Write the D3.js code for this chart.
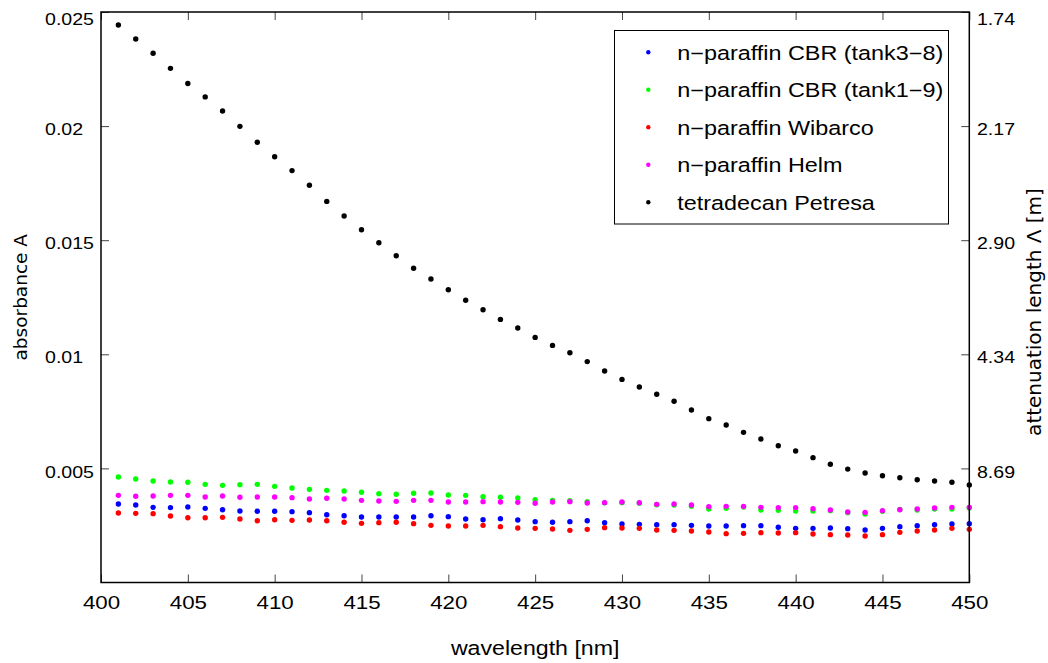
<!DOCTYPE html>
<html>
<head>
<meta charset="utf-8">
<script src="https://cdn.jsdelivr.net/npm/d3@7"></script>
<style>
  html, body { margin: 0; padding: 0; background: #fff; }
  svg { display: block; }
  text { font-family: "Liberation Sans", Arial, sans-serif; fill: #000; }
</style>
</head>
<body>
<svg id="chart" width="1048" height="663"></svg>
<script>
// Absorbance spectra of scintillator solvents, 401–450 nm
const wavelengths = [
  401,402,403,404,405,406,407,408,409,410,
  411,412,413,414,415,416,417,418,419,420,
  421,422,423,424,425,426,427,428,429,430,
  431,432,433,434,435,436,437,438,439,440,
  441,442,443,444,445,446,447,448,449,450
];

const cbrTank38 = [
  0.003440,0.003396,0.003294,0.003279,0.003308,0.003250,0.003191,0.003133,0.003119,0.003119,
  0.003104,0.003060,0.002972,0.002928,0.002870,0.002870,0.002870,0.002870,0.002928,0.002885,
  0.002783,0.002753,0.002797,0.002739,0.002666,0.002637,0.002666,0.002709,0.002622,0.002564,
  0.002549,0.002534,0.002534,0.002505,0.002476,0.002476,0.002491,0.002491,0.002418,0.002374,
  0.002374,0.002388,0.002359,0.002301,0.002374,0.002447,0.002491,0.002534,0.002564,0.002578
];

const cbrTank19 = [
  0.004623,0.004535,0.004448,0.004404,0.004390,0.004302,0.004258,0.004287,0.004302,0.004214,
  0.004141,0.004083,0.004039,0.004010,0.003952,0.003893,0.003864,0.003908,0.003922,0.003834,
  0.003820,0.003761,0.003733,0.003703,0.003630,0.003601,0.003586,0.003542,0.003490,0.003500,
  0.003470,0.003410,0.003396,0.003338,0.003221,0.003250,0.003308,0.003177,0.003162,0.003133,
  0.003133,0.003148,0.003060,0.003002,0.003119,0.003206,0.003177,0.003221,0.003221,0.003265
];

const wibarco = [
  0.003046,0.003031,0.003016,0.002914,0.002840,0.002840,0.002855,0.002783,0.002709,0.002753,
  0.002724,0.002739,0.002709,0.002637,0.002593,0.002622,0.002637,0.002578,0.002505,0.002476,
  0.002476,0.002505,0.002447,0.002388,0.002374,0.002344,0.002286,0.002330,0.002403,0.002388,
  0.002374,0.002301,0.002286,0.002257,0.002213,0.002140,0.002154,0.002184,0.002169,0.002184,
  0.002125,0.002096,0.002082,0.002038,0.002096,0.002198,0.002257,0.002301,0.002374,0.002330
];

const helm = [
  0.003820,0.003777,0.003791,0.003820,0.003820,0.003747,0.003791,0.003733,0.003747,0.003747,
  0.003718,0.003659,0.003689,0.003659,0.003601,0.003571,0.003557,0.003601,0.003601,0.003528,
  0.003528,0.003542,0.003528,0.003513,0.003470,0.003528,0.003542,0.003484,0.003499,0.003528,
  0.003499,0.003425,0.003440,0.003396,0.003323,0.003338,0.003338,0.003294,0.003279,0.003279,
  0.003235,0.003177,0.003089,0.003075,0.003148,0.003191,0.003221,0.003265,0.003294,0.003294
];

const petresa = [
  0.02443,0.02382,0.02319,0.02253,0.02187,0.02128,0.02066,0.01999,0.01929,0.01866,
  0.01805,0.01741,0.01670,0.01606,0.01546,0.01489,0.01432,0.01377,0.01330,0.01283,
  0.01237,0.01195,0.01153,0.01115,0.01074,0.01039,0.01007,0.00968,0.00927,0.00890,
  0.00857,0.00825,0.00794,0.00756,0.00718,0.00690,0.00658,0.00629,0.00599,0.00576,
  0.00547,0.00518,0.00497,0.00480,0.00468,0.00459,0.00450,0.00445,0.00439,0.00427
];

const seriesNames = [
  "n\u2212paraffin CBR (tank3\u22128)",
  "n\u2212paraffin CBR (tank1\u22129)",
  "n\u2212paraffin Wibarco",
  "n\u2212paraffin Helm",
  "tetradecan Petresa"
];
const seriesValues = [cbrTank38, cbrTank19, wibarco, helm, petresa];
const seriesColors = ["#0000ff", "#00ff00", "#ff0000", "#ff00ff", "#000000"];

const xTicks = [400, 405, 410, 415, 420, 425, 430, 435, 440, 445, 450];
const yTicks = [0.005, 0.01, 0.015, 0.02, 0.025];
const yTickLabels = ["0.005", "0.01", "0.015", "0.02", "0.025"];
const lambdaTickLabels = ["8.69", "4.34", "2.90", "2.17", "1.74"];

const svg = d3.select("#chart");
const plot = { left: 101, right: 969.3, top: 12, bottom: 582.5 };
const sx = 1.2;   // horizontal widening of the lettering

const x = d3.scaleLinear().domain([400, 450]).range([plot.left, plot.right]);
const y = d3.scaleLinear().domain([0, 0.025]).range([plot.bottom, plot.top]);

const tickStroke = "#444";

function styleAxis(g, size) {
  g.select(".domain").remove();
  g.selectAll(".tick line").attr("stroke", tickStroke).attr("stroke-width", 1);
  g.selectAll("text")
    .style("font-size", size)
    .style("font-family", '"Liberation Sans", Arial, sans-serif')
    .attr("fill", "#000")
    .attr("transform", `scale(${sx},1)`);
}

// bottom axis with labels
svg.append("g")
  .attr("transform", `translate(0,${plot.bottom})`)
  .call(d3.axisBottom(x).tickValues(xTicks).tickFormat(d3.format("d"))
    .tickSizeInner(-8).tickSizeOuter(0).tickPadding(13.5))
  .call(styleAxis, "18.6px");

// top axis, ticks only
svg.append("g")
  .attr("transform", `translate(0,${plot.top})`)
  .call(d3.axisTop(x).tickValues(xTicks).tickFormat(() => "")
    .tickSizeInner(-8).tickSizeOuter(0))
  .call(styleAxis, "18.6px");

// left axis: absorbance
svg.append("g")
  .attr("transform", `translate(${plot.left},0)`)
  .call(d3.axisLeft(y).tickValues(yTicks).tickFormat((d, i) => yTickLabels[i])
    .tickSizeInner(-8).tickSizeOuter(0))
  .call(styleAxis, "16.3px")
  .call(g => g.selectAll("text")
    .attr("text-anchor", "start")
    .attr("x", (45 - plot.left) / sx)
    .attr("dy", d => d === 0.025 ? "0.77em" : "0.53em"));

// right axis: attenuation length at the same tick positions
svg.append("g")
  .attr("transform", `translate(${plot.right},0)`)
  .call(d3.axisRight(y).tickValues(yTicks).tickFormat((d, i) => lambdaTickLabels[i])
    .tickSizeInner(-8).tickSizeOuter(0))
  .call(styleAxis, "16.3px")
  .call(g => g.selectAll("text")
    .attr("text-anchor", "start")
    .attr("x", (977 - plot.right) / sx)
    .attr("dy", d => d === 0.025 ? "0.74em" : "0.53em"));

// data points
seriesValues.forEach((vals, si) => {
  svg.append("g")
    .selectAll("circle")
    .data(vals)
    .join("circle")
    .attr("cx", (d, i) => x(wavelengths[i]))
    .attr("cy", d => y(d))
    .attr("r", 2.7)
    .attr("fill", seriesColors[si]);
});

// frame
svg.append("rect")
  .attr("x", plot.left).attr("y", plot.top)
  .attr("width", plot.right - plot.left).attr("height", plot.bottom - plot.top)
  .attr("fill", "none").attr("stroke", "#000").attr("stroke-width", 1.5);

// axis titles
svg.append("text")
  .attr("transform", `translate(${(plot.left + plot.right) / 2},655) scale(${sx},1)`)
  .attr("text-anchor", "middle")
  .style("font-size", "19.3px")
  .text("wavelength [nm]");

svg.append("text")
  .attr("transform", `translate(26.5,${(plot.top + plot.bottom) / 2}) rotate(-90)`)
  .attr("text-anchor", "middle")
  .style("font-family", '"DejaVu Sans", sans-serif')
  .style("font-size", "18.5px")
  .text("absorbance A");

svg.append("text")
  .attr("transform", `translate(1041,312) rotate(-90)`)
  .attr("text-anchor", "middle")
  .style("font-family", '"DejaVu Sans", sans-serif')
  .style("font-size", "20px")
  .text("attenuation length \u039B [m]");

// legend
const legend = svg.append("g");
legend.append("rect")
  .attr("x", 614.5).attr("y", 30.5)
  .attr("width", 334).attr("height", 193.5)
  .attr("fill", "#fff").attr("stroke", "#000").attr("stroke-width", 1);

const rows = legend.selectAll("g.row")
  .data(seriesNames)
  .join("g")
  .attr("class", "row")
  .attr("transform", (d, i) => `translate(0,${52.3 + i * 37.5})`);

rows.append("circle")
  .attr("cx", 648.3).attr("cy", 0).attr("r", 2.2)
  .attr("fill", (d, i) => seriesColors[i]);

rows.append("text")
  .attr("transform", `translate(677.3,7.4) scale(${sx},1)`)
  .style("font-size", "19.5px")
  .text(d => d);
</script>
</body>
</html>
